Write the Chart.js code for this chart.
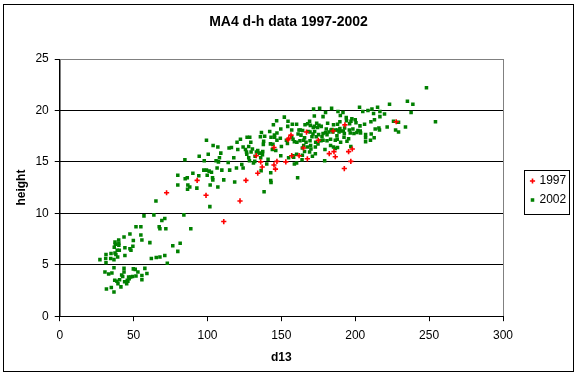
<!DOCTYPE html>
<html>
<head>
<meta charset="utf-8">
<script src="https://cdn.jsdelivr.net/npm/chart.js@4.4.1/dist/chart.umd.min.js"></script>
<style>
  body { margin: 0; background: #fff; }
  canvas { display: block; }
</style>
</head>
<body>
<canvas id="chartDH" width="577" height="377"></canvas>
<script>
const titleText = 'MA4 d-h data 1997-2002'
const xTitle = 'd13'
const yTitle = 'height'
const seriesNames = ['1997', '2002']

// 1997 measurements
const d13_1997 = [72.3, 93, 99, 111, 122, 126, 133, 134, 136, 137, 145, 145, 146, 147, 153, 154.5, 155, 156.5, 157, 162,
  165, 167, 167.6, 175, 182.4, 185, 185.6, 186.5, 192.6, 193, 195.5, 197, 198, 227.7]
const h_1997 = [12.0, 13.2, 11.75, 9.2, 11.2, 13.2, 15.6, 13.9, 15.0, 14.5, 14.7, 16.4, 14.3, 15.05, 15.0, 17.15, 17.3, 17.6, 15.6, 15.6,
  16.35, 17.9, 15.3, 17.1, 15.8, 18.0, 16.0, 15.5, 14.35, 18.6, 16.0, 15.05, 16.25, 18.9]

// 2002 measurements
const d13_2002 = [
  27.2, 31.3, 31.1, 31.3, 34.7, 34.5, 37.4, 38.0, 36.7, 39.2, 36.9, 37.4, 37.6, 40, 40, 39.9, 38.9, 40.3, 43.5, 44.1,
  44.1, 47.5, 47.5, 48.2, 49.8, 49.5, 51.6, 54.9, 54.9, 55.6, 61, 62, 65.3, 67.8, 71.1, 72.8, 76.5, 79.9, 67.3, 67.8,
  71.8, 69.1, 81.5,
  30.6, 33.1, 35.3, 36.7, 37.2, 38.7, 39.4, 40.5, 41.9, 42.6, 43.5, 43.5, 43.9, 45.3, 45.7, 46.6, 47, 48, 49.3, 49.8,
  51.1, 51.6, 52.9, 55.6, 55.6, 57.6, 59, 34.9, 31.6, 36.7, 41.4, 46.1,
  57, 63.7, 65.1, 71.1, 84, 88.7, 79.9, 79.9, 84.9, 86.3, 84.7, 86.7, 88, 86.5, 90.1, 92.8, 94.1, 94.4, 97.5, 99.3,
  99.8, 99.3, 97.8, 100.5, 101.1, 101.8, 102.7, 101.6, 103.4, 103.8, 103.6, 106.5, 107, 107.4, 108.1, 109, 107, 105.8, 109.7, 111,
  114, 115, 114.6, 116.2, 117.8, 118.4, 120, 120.5, 122.3, 123.2, 124.1, 124.1, 125.7, 126.8, 128.6, 126.6, 127.9, 129.5, 129.3, 130.4,
  132, 132.2, 133.1, 136.5, 135.8, 137.4, 137.8, 136, 136.3, 138.3, 140.1, 141, 142.8, 142.8, 143, 143, 143.9, 144.6, 146.8, 145.3,
  147, 147, 146.2, 149.6, 149.6, 152, 153.4, 154.3, 154.1, 154.5, 157.4, 157, 157, 160.3, 160.5, 161, 161.9, 160.3, 158.3, 160.3,
  150, 144.3, 138,
  248.2, 235.3, 239, 223.2, 202.9, 208.6, 205.1, 211.3, 212.4, 215.1, 216.7, 219.8, 237.8, 225.9, 229.3, 234, 227.3, 229.3, 254.3, 221.6,
  216, 216.4, 213.5, 213, 210.6, 212.8, 210.3, 207, 207, 206.3, 203.2, 203.4, 201.8, 200, 200.5, 197.7, 196.2, 197.1, 196, 198.4,
  191.7, 189.9, 193.9, 194.1, 189.6, 188, 192.8, 188, 190.1, 186.5, 184.9, 180.4, 181.3, 177, 175.4, 175.9, 171.8, 179.9, 184, 188.3,
  173.9, 174.5, 172.3, 169.6, 167.8, 168.4, 173.6, 175.2, 178.2, 178.2, 180.9, 183.3, 186.5, 187.6, 188, 192.4, 194.4, 190.1, 185.3, 179.3,
  171, 162.6, 161.3, 163.3, 165.7, 166.7, 169.4, 169.8, 170, 169.1, 165.1, 164.2, 165.7, 167.6, 174.8, 176.8, 180.9, 183.3, 182.2, 185.3,
  184.2, 191.9, 189.6, 169.1, 166, 164.4, 162.8, 171.6, 172.5, 172.3, 170.7, 178.2, 197, 173, 216.7,
  142.1, 138.7, 145.4, 126.4, 127.9, 134, 135.1, 137.2, 142.6, 149.3, 157.9, 158.8, 119.6, 128.4, 131.1, 154.9, 157.9, 164.2, 158.8, 164,
  169.4, 171.4, 165.1, 173.2, 177.5, 179.9, 183.6, 187.8, 189, 192.6, 195.5, 196.6, 199.1, 201.1, 203.6, 207, 210.8, 173, 179.5, 186.5]
const h_2002 = [
  5.5, 6.0, 5.6, 5.2, 6.1, 5.6, 6.15, 6.0, 5.5, 5.75, 6.7, 7.2, 7.0, 7.1, 6.9, 7.4, 6.4, 6.4, 7.7, 6.65,
  5.9, 8.0, 6.55, 6.4, 7.35, 6.8, 8.7, 8.7, 7.9, 7.4, 7.15, 5.6, 5.7, 5.75, 5.9, 5.15, 6.85, 6.3, 8.7, 8.5,
  8.5, 9.3, 7.1,
  4.3, 4.1, 4.2, 4.7, 3.5, 3.4, 3.15, 3.55, 4.0, 3.85, 4.65, 4.3, 3.35, 3.15, 3.5, 3.8, 3.65, 3.8, 3.85, 4.6,
  4.55, 3.9, 4.3, 3.95, 3.55, 4.65, 4.15, 2.8, 2.65, 2.35, 2.85, 3.4,
  9.75, 9.85, 11.2, 9.5, 9.85, 8.5, 13.7, 12.75, 13.35, 13.45, 15.2, 12.75, 12.55, 12.35, 13.9, 12.45, 13.65, 15.55, 14.2, 14.2,
  13.7, 17.1, 15.1, 15.75, 14.1, 12.75, 14.0, 10.65, 13.45, 16.6, 13.25, 14.4, 12.55, 15, 15.4, 15.85, 16.45, 15.1, 14.2, 13.25,
  14.95, 14.2, 16.35, 16.4, 15.4, 13.05, 16.9, 16.2, 17.2, 14.75, 14.4, 16.45, 16.2, 17.4, 17.4, 15.75, 15.4, 15.95, 16.9, 16.25,
  15.05, 15.55, 15.95, 17.85, 17.45, 16.0, 16.7, 15.4, 14.15, 12.1, 14.8, 15.25, 13.2, 13.95, 13.0, 17.4, 16.2, 18.6, 19.0, 17.6,
  17.1, 17.8, 16.1, 15.6, 18.2, 19.35, 17.1, 18.45, 16.8, 18.95, 18.65, 18.1, 17.4, 18.65, 16.9, 13.45, 18.1, 15.75, 15.45, 14.9,
  16.5, 16.7, 17.0,
  22.2, 20.9, 20.6, 20.6, 20.3, 20.0, 19.9, 20.15, 19.7, 20.3, 19.9, 19.65, 19.8, 18.95, 18.85, 18.4, 18.1, 17.9, 18.9, 18.4,
  18.3, 18.1, 18.2, 19.1, 18.9, 17.35, 17.1, 17.35, 16.95, 18.65, 18.5, 18.0, 18.05, 19.1, 18.8, 19.2, 18.7, 18.95, 18.1, 18.2,
  19.8, 19.5, 19.3, 19.0, 18.9, 18.65, 18.3, 18.1, 18.0, 18.1, 17.9, 18.2, 18.75, 18.45, 18.55, 20.2, 20.15, 19.8, 20.2, 19.9,
  18.75, 18.35, 18.45, 18.55, 18.7, 17.95, 17.45, 17.65, 17.75, 17.1, 17.65, 17.2, 17.1, 17.55, 16.4, 17.4, 17.0, 16.9, 16.45, 15.1,
  15.55, 17.05, 17.7, 17.6, 17.35, 16.9, 17.05, 16.6, 16.25, 15.95, 16.6, 16.35, 16.0, 16.45, 16.75, 17.05, 17.05, 16.6, 17.9, 18.6,
  18.15, 18.0, 18.25, 18.95, 18.6, 18.05, 18.1, 18.35, 17.95, 19.45, 17.45, 19.4, 16.5, 15.8, 19.4,
  17.95, 17.5, 17.4, 15.95, 16.5, 16.1, 15.85, 15.7, 16.75, 17.3, 17.2, 16.95, 14.4, 15.1, 14.9, 15.4, 15.6, 15.65, 14.8, 15.2,
  17.9, 17.7, 17.1, 16.9, 17.45, 17.85, 18.1, 17.2, 17.9, 17.75, 17.25, 17.8, 17.75, 17.85, 17.8, 17.65, 17.7, 16.45, 16.2, 16.3]

const xTicks = { min: 0, max: 300, step: 50 }
const yTicks = { min: 0, max: 25, step: 5 }

const toPoints = (xs, ys) => xs.map((x, i) => ({ x: x, y: ys[i] }))

const FONT = "'Liberation Sans', Arial, sans-serif"

// excel style frame: white page, outer border, grey plot box
const framePlugin = {
  id: 'frame',
  afterLayout(chart) {
    // centre the title on the whole page, not just the plot column
    const t = chart.titleBlock
    if (t) { t.left = 0; t.right = chart.width; t.width = chart.width }
  },
  beforeDraw(chart) {
    const c = chart.ctx
    const a = chart.chartArea
    c.save()
    c.fillStyle = '#fff'
    c.fillRect(0, 0, chart.width, chart.height)
    c.strokeStyle = '#000'
    c.lineWidth = 1
    c.strokeRect(3.5, 4.5, 570, 367)
    c.strokeStyle = '#808080'
    c.strokeRect(Math.round(a.left) + 0.5, Math.round(a.top) + 0.5, Math.round(a.right - a.left), Math.round(a.bottom - a.top))
    c.restore()
  }
}

// boxed legend to the right of the plot
const legendPlugin = {
  id: 'boxLegend',
  afterDraw(chart) {
    const c = chart.ctx
    const a = chart.chartArea
    const bx = Math.round(a.right) + 21.5
    const by = 170.5
    c.save()
    c.strokeStyle = '#000'
    c.lineWidth = 1
    c.strokeRect(bx, by, 45, 44)
    c.font = '12px ' + FONT
    c.textBaseline = 'middle'
    c.fillStyle = '#000'
    chart.data.datasets.forEach((ds, i) => {
      const cy = by + 10.5 + i * 19
      const mx = bx + 8
      if (ds.pointStyle === 'cross') {
        c.strokeStyle = ds.borderColor
        c.lineWidth = ds.borderWidth
        c.beginPath()
        c.moveTo(mx - ds.pointRadius, cy); c.lineTo(mx + ds.pointRadius, cy)
        c.moveTo(mx, cy - ds.pointRadius); c.lineTo(mx, cy + ds.pointRadius)
        c.stroke()
      } else {
        c.fillStyle = ds.backgroundColor
        const s = ds.pointRadius * Math.SQRT1_2
        c.fillRect(mx - s, cy - s, 2 * s, 2 * s)
      }
      c.fillStyle = '#000'
      c.fillText(ds.label, bx + 15, cy)
    })
    c.restore()
  }
}

const ctx = document.getElementById('chartDH')

const chartDH = new Chart(ctx, {
  type: 'scatter',
  data: {
    datasets: [{
      label: seriesNames[0],
      data: toPoints(d13_1997, h_1997),
      pointStyle: 'cross',
      pointRadius: 2.6,
      borderWidth: 1.6,
      borderColor: '#ff0000',
      backgroundColor: '#ff0000'
    },
    {
      label: seriesNames[1],
      data: toPoints(d13_2002, h_2002),
      pointStyle: 'rect',
      pointRadius: 2.5,
      borderWidth: 0,
      borderColor: '#008000',
      backgroundColor: '#008000'
    }]
  },
  options: {
    responsive: false,
    animation: false,
    events: [],
    layout: { padding: { left: 4, right: 74, top: 4, bottom: 11 } },
    plugins: {
      legend: { display: false },
      tooltip: { enabled: false },
      title: {
        display: true,
        text: titleText,
        color: '#000',
        font: { family: FONT, size: 14, weight: 'bold' },
        padding: { top: 9.6, bottom: 28.6 }
      }
    },
    scales: {
      x: {
        type: 'linear',
        min: xTicks.min,
        max: xTicks.max,
        ticks: { stepSize: xTicks.step, color: '#000', padding: 7, font: { family: FONT, size: 12 } },
        grid: { drawOnChartArea: false, tickLength: 5, tickColor: '#000' },
        border: { color: '#000', width: 1 },
        title: { display: true, text: xTitle, color: '#000', font: { family: FONT, size: 12, weight: 'bold' }, padding: { top: 1, bottom: 1 } }
      },
      y: {
        type: 'linear',
        min: yTicks.min,
        max: yTicks.max,
        ticks: { stepSize: yTicks.step, color: '#000', padding: 6, font: { family: FONT, size: 12 } },
        grid: {
          color: (c) => (c.tick && c.tick.value === yTicks.max ? '#808080' : '#000'),
          tickLength: 5,
          tickColor: '#000'
        },
        border: { color: '#000', width: 1 },
        title: { display: true, text: yTitle, color: '#000', font: { family: FONT, size: 12, weight: 'bold' }, padding: { top: 10, bottom: 1 } }
      }
    }
  },
  plugins: [framePlugin, legendPlugin]
})
</script>
</body>
</html>
